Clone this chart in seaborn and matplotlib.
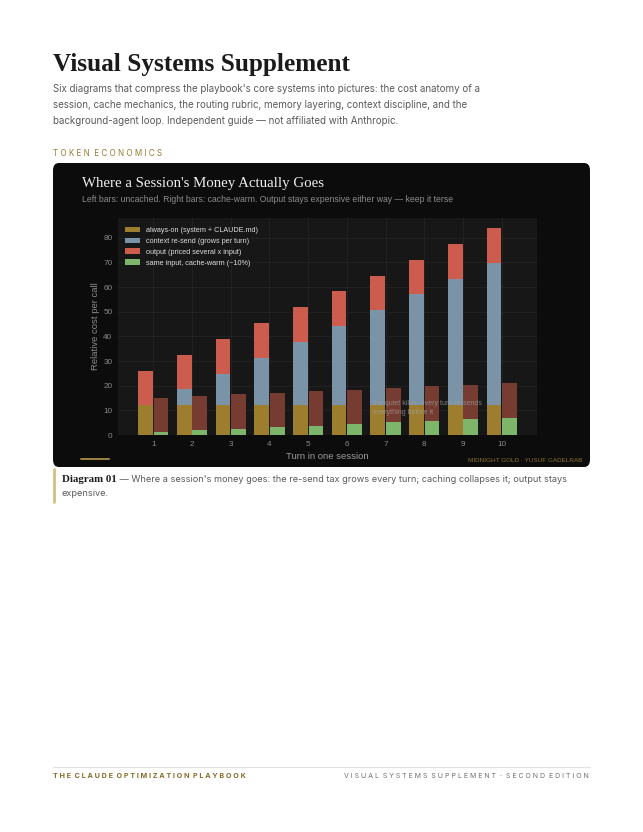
import numpy as np
import pandas as pd
import seaborn as sns
import matplotlib.pyplot as plt
from matplotlib.patches import FancyBboxPatch, Patch
from matplotlib.lines import Line2D

# Values
turns = [1, 2, 3, 4, 5, 6, 7, 8, 9, 10]
always_on = [12, 12, 12, 12, 12, 12, 12, 12, 12, 12]
context_resend = [0, 6.5, 12.8, 19.3, 25.8, 32.2, 38.6, 45.1, 51.4, 57.9]
output_cost = [14, 14, 14, 14, 14, 14, 14, 14, 14, 14]
cache_warm = [1.2, 1.85, 2.5, 3.1, 3.8, 4.4, 5.1, 5.7, 6.3, 7.0]
y_ticks = [0, 10, 20, 30, 40, 50, 60, 70, 80]

legend_labels = [
    "always-on (system + CLAUDE.md)",
    "context re-send (grows per turn)",
    "output (priced several x input)",
    "same input, cache-warm (~10%)",
]

GOLD = "#9c7e2e"
BLUE = "#7a93a7"
RED = "#cc5c4d"
DARK_RED = "#763b31"
GREEN = "#7db56b"
CARD = "#0c0c0c"
PLOT_BG = "#171717"

W, H = 643, 832


def fx(x):
    return x / W


def fy(y):
    return 1 - y / H


def spaced(words, gap="  "):
    # fake letter spacing for the small caps labels
    return gap.join(" ".join(w) for w in words)


sns.set_style("white")
plt.rcParams["font.family"] = ["Liberation Sans", "DejaVu Sans"]

fig = plt.figure(figsize=(W / 100, H / 100), dpi=100)
fig.patch.set_facecolor("white")

# Page header
fig.text(fx(53), fy(64), "Visual Systems Supplement", fontsize=18.2, fontweight="bold",
         family="Liberation Serif", color="#1a1a1a", va="center")
intro = ("Six diagrams that compress the playbook's core systems into pictures: the cost anatomy of a\n"
         "session, cache mechanics, the routing rubric, memory layering, context discipline, and the\n"
         "background-agent loop. Independent guide \u2014 not affiliated with Anthropic.")
fig.text(fx(53), fy(84), intro, fontsize=7.0, family="Inter", color="#5a5a5a",
         va="top", linespacing=1.78)
fig.text(fx(53), fy(153), spaced(["TOKEN", "ECONOMICS"]), fontsize=5.8,
         family="Inter", color="#9a7a30", va="center")

# Dark card
card = FancyBboxPatch((fx(53), fy(467)), fx(590 - 53), (467 - 163) / H,
                      boxstyle="round,pad=0,rounding_size=0.009",
                      transform=fig.transFigure, facecolor=CARD, edgecolor="none", zorder=-1)
fig.patches.append(card)

fig.text(fx(82), fy(183), "Where a Session's Money Actually Goes", fontsize=10.7,
         family="Liberation Serif", color="#eeeeee", va="center")
fig.text(fx(82), fy(200),
         "Left bars: uncached. Right bars: cache-warm. Output stays expensive either way \u2014 keep it terse",
         fontsize=6.2, color="#8c8c8c", va="center")

# Chart axes
ax = fig.add_axes([fx(118), fy(435), fx(537 - 118), (435 - 218) / H])
ax.set_zorder(2)
ax.set_facecolor(PLOT_BG)

t = np.array(turns, dtype=float)
a = np.array(always_on)
c = np.array(context_resend)
o = np.array(output_cost)
g = np.array(cache_warm)

left = pd.DataFrame({"x": t - 0.2, "top": a + c + o, "mid": a + c, "base": a})
right = pd.DataFrame({"x": t + 0.2, "top": g + o, "base": g})

bar_kw = dict(native_scale=True, width=0.38, saturation=1, linewidth=0, ax=ax, zorder=3)
# stacked by overdrawing cumulative heights
sns.barplot(data=left, x="x", y="top", color=RED, **bar_kw)
sns.barplot(data=left, x="x", y="mid", color=BLUE, **bar_kw)
sns.barplot(data=left, x="x", y="base", color=GOLD, **bar_kw)
sns.barplot(data=right, x="x", y="top", color=DARK_RED, **bar_kw)
sns.barplot(data=right, x="x", y="base", color=GREEN, **bar_kw)

ax.set_xlim(0.09, 10.91)
ax.set_ylim(0, 88)
ax.set_xticks(turns)
ax.set_xticklabels([str(v) for v in turns])
ax.set_yticks(y_ticks)
ax.grid(True, color="#262626", linewidth=0.5, zorder=0)
ax.set_axisbelow(True)
for s in ax.spines.values():
    s.set_visible(False)
ax.tick_params(axis="both", labelsize=5.9, colors="#8a8a8a", length=2, width=0.5, pad=2)
ax.set_xlabel("Turn in one session", fontsize=6.8, color="#9a9a9a", labelpad=3.5)
ax.set_ylabel("Relative cost per call", fontsize=6.8, color="#8a8a8a", labelpad=2.5)

ax.text(6.68, 14.2, "the quiet killer: every turn re-sends\neverything before it", fontsize=5,
        color="#a0a0a0", alpha=0.75, va="top", ha="left", zorder=5, linespacing=1.4)

handles = [Patch(facecolor=col, edgecolor="none") for col in (GOLD, BLUE, RED, GREEN)]
leg = ax.legend(handles, legend_labels, loc="upper left", frameon=False, fontsize=5.2,
                handlelength=2.2, handleheight=0.8, labelspacing=0.5,
                borderaxespad=0.8, handletextpad=0.75, bbox_to_anchor=(-0.005, 1))
for txt in leg.get_texts():
    txt.set_color("#dddddd")

# Card footer bits
fig.lines.append(Line2D([fx(81), fx(109)], [fy(459), fy(459)], transform=fig.transFigure,
                        color="#9c8440", linewidth=1.4))
fig.text(fx(583), fy(461), "MIDNIGHT GOLD \u00b7 YUSUF GADELRAB", fontsize=4.6,
         color="#8a7030", ha="right", va="center")

# Caption
fig.lines.append(Line2D([fx(54), fx(54)], [fy(469), fy(502)], transform=fig.transFigure,
                        color="#d3bf85", linewidth=2))
cap1 = fig.text(fx(62), fy(479), "Diagram 01", fontsize=7.8, fontweight="bold",
                family="Liberation Serif", color="#1a1a1a", va="center")
fig.canvas.draw()
bb = cap1.get_window_extent()
fig.text(bb.x1 / W, fy(479),
         " \u2014 Where a session's money goes: the re-send tax grows every turn; caching collapses it; output stays",
         fontsize=6.6, family="Inter", color="#5a5a5a", va="center")
fig.text(fx(62), fy(494), "expensive.", fontsize=6.6, family="Inter", color="#5a5a5a", va="center")

# Page footer
fig.lines.append(Line2D([fx(53), fx(590)], [fy(767), fy(767)], transform=fig.transFigure,
                        color="#e2e2e2", linewidth=0.8))
fig.text(fx(53), fy(776), spaced(["THE", "CLAUDE", "OPTIMIZATION", "PLAYBOOK"]),
         fontsize=5.2, family="Inter", color="#8a6d2a", va="center", fontweight="bold")
fig.text(fx(589), fy(776), spaced(["VISUAL", "SYSTEMS", "SUPPLEMENT", "\u00b7", "SECOND", "EDITION"]),
         fontsize=5.0, family="Inter", color="#6f6f6f", ha="right", va="center")

fig.savefig("out.png", dpi=100, facecolor="white")
